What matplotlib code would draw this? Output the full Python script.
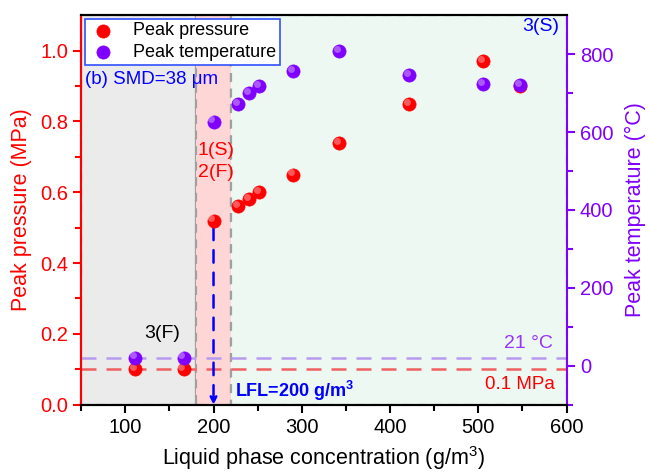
import matplotlib
matplotlib.use("Agg")
import matplotlib.pyplot as plt
from matplotlib.patches import Rectangle

plt.rcParams['font.family'] = ['Liberation Sans', 'DejaVu Sans']
plt.rcParams['mathtext.fontset'] = 'custom'
plt.rcParams['mathtext.rm'] = 'Liberation Sans'
plt.rcParams['mathtext.bf'] = 'Liberation Sans:bold'

# data
conc = [111, 166, 200, 228, 240, 252, 290, 342, 422, 505, 547]
p_peak = [0.10, 0.10, 0.52, 0.56, 0.58, 0.60, 0.65, 0.74, 0.85, 0.97, 0.90]
t_peak = [21, 21, 627, 673, 699, 719, 757, 809, 747, 724, 721]
regions = [(50, 180, '#EBEBEB'), (180, 220, '#FFD6D6'), (220, 600, '#EDF8F2')]
p_ref = 0.1
t_ref = 21
lfl = 200

RED = '#FF0000'
PURPLE = '#8000FF'
BLUE = '#0000FF'

fig = plt.figure(figsize=(6.49, 4.75), dpi=100)
ax = fig.add_axes([0.125, 0.148, 0.748, 0.82])
ax2 = ax.twinx()

ax.set_xlim(50, 600)
ax.set_ylim(0, 1.1)
ax2.set_ylim(-100, 900)

for x0, x1, c in regions:
    ax.add_patch(Rectangle((x0, 0), x1 - x0, 1.1, facecolor=c, edgecolor='#A0A0A0',
                           ls=(0, (4, 3)), lw=1.6, zorder=0))
ax.axhline(p_ref, color='#F06060', ls=(0, (6, 4)), lw=1.8, zorder=1)
ax2.axhline(t_ref, color='#B89AF0', ls=(0, (6, 4)), lw=1.8, zorder=1)


def spheres(a, x, y, col, label):
    h = a.scatter(x, y, s=90, color=col, edgecolors=col, lw=0.5, zorder=5, label=label)
    a.scatter(x, y, s=25, color='white', alpha=0.35, lw=0, zorder=6,
              transform=a.transData + matplotlib.transforms.ScaledTranslation(-1.5 / 72, 1.5 / 72, fig.dpi_scale_trans))
    return h


h1 = spheres(ax, conc, p_peak, RED, 'Peak pressure')
h2 = spheres(ax2, conc, t_peak, PURPLE, 'Peak temperature')

# LFL arrow
ax.annotate('', xy=(lfl, 0.0), xytext=(lfl, 0.5),
            arrowprops=dict(arrowstyle='-|>', color=BLUE, lw=1.8, ls=(0, (5, 4)),
                            mutation_scale=10, shrinkA=0, shrinkB=0), zorder=4)
ax.text(224, 0.04, 'LFL=200 g/m$^\\mathbf{3}$', color=BLUE, fontsize=13, fontweight='bold',
        va='center', ha='left')

ax.text(0.008, 0.834, '(b) SMD=38 μm', transform=ax.transAxes, color=BLUE, fontsize=13.5,
        va='center', ha='left')
ax.text(203, 0.719, '1(S)', color=RED, fontsize=14, ha='center', va='center')
ax.text(203, 0.655, '2(F)', color=RED, fontsize=14, ha='center', va='center')
ax.text(142, 0.202, '3(F)', color='black', fontsize=14, ha='center', va='center')
ax.text(0.985, 0.97, '3(S)', transform=ax.transAxes, color=BLUE, fontsize=14,
        ha='right', va='center')
ax.text(0.972, 0.158, '21 °C', transform=ax.transAxes, color='#9933FF', fontsize=14,
        ha='right', va='center')
ax.text(0.976, 0.053, '0.1 MPa', transform=ax.transAxes, color=RED, fontsize=13.5,
        ha='right', va='center')

ax.set_xticks([100, 200, 300, 400, 500, 600])
ax.set_xticks(range(50, 601, 50), minor=True)
ax.set_yticks([0.0, 0.2, 0.4, 0.6, 0.8, 1.0])
ax.set_yticks([0.1, 0.3, 0.5, 0.7, 0.9], minor=True)
ax2.set_yticks([0, 200, 400, 600, 800])
ax2.set_yticks([-100, 100, 300, 500, 700], minor=True)

ax.tick_params(axis='x', which='both', direction='out', labelsize=14.5, colors='black')
ax.tick_params(axis='x', which='major', length=6, width=1.5)
ax.tick_params(axis='x', which='minor', length=4, width=1.5)
ax.tick_params(axis='y', which='both', colors=RED, labelsize=14.5, width=1.5)
ax.tick_params(axis='y', which='major', length=6)
ax.tick_params(axis='y', which='minor', length=4)
ax2.tick_params(axis='y', which='both', colors=PURPLE, labelsize=14.5, width=1.5)
ax2.tick_params(axis='y', which='major', length=6)
ax2.tick_params(axis='y', which='minor', length=4)
ax.yaxis.set_major_formatter(matplotlib.ticker.FormatStrFormatter('%.1f'))

for a in (ax, ax2):
    for s in a.spines.values():
        s.set_linewidth(1.5)
    a.spines['top'].set_color('black')
    a.spines['bottom'].set_color('black')
ax2.spines['left'].set_color(RED)
ax2.spines['right'].set_color(PURPLE)
ax.spines['left'].set_color(RED)
ax.spines['right'].set_visible(False)

ax.set_xlabel('Liquid phase concentration (g/m$^3$)', fontsize=15.5, labelpad=5)
ax.set_ylabel('Peak pressure (MPa)', fontsize=15.5, color=RED, labelpad=6)
ax2.set_ylabel('Peak temperature (°C)', fontsize=15.5, color=PURPLE, labelpad=8)

leg = ax2.legend(handles=[h1, h2], loc='upper left', bbox_to_anchor=(0.0, 1.0),
                 fontsize=13, frameon=True, fancybox=False, borderaxespad=0.2,
                 handletextpad=0.9, handlelength=1.6, borderpad=0.2, labelspacing=0.25)
leg.get_frame().set_edgecolor('#3050FF')
leg.get_frame().set_linewidth(1.2)
leg.get_frame().set_alpha(1)
leg.set_zorder(10)

fig.savefig('out.png', dpi=100)
